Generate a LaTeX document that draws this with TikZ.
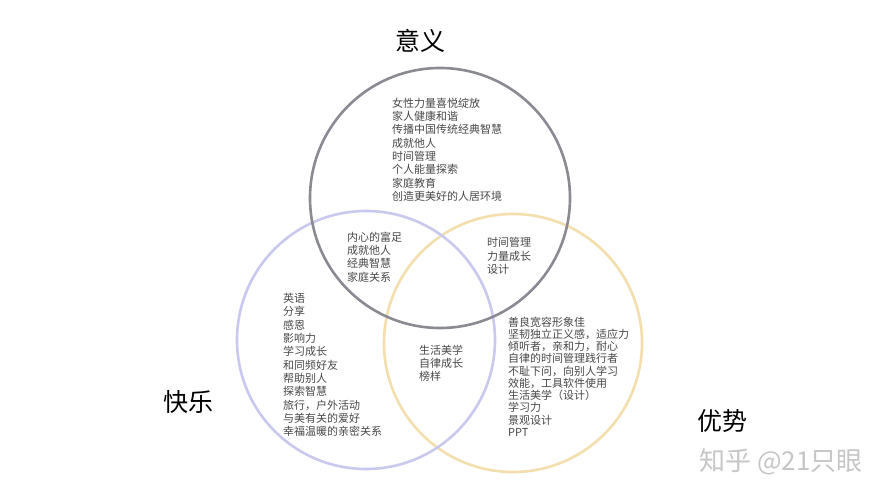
\documentclass[tikz,border=0pt]{standalone}
\usepackage{fontspec}
\setmainfont{Noto Sans CJK SC}
\begin{document}
\begin{tikzpicture}[x=1pt,y=-1pt,
  ring/.style={line width=2.6pt},
  txt/.style={anchor=north west,inner sep=0pt,align=left,text=txtc,font=\fontsize{11}{13.35}\selectfont},
  ttl/.style={inner sep=0pt,text=black,font=\fontsize{25}{30}\selectfont}]
\definecolor{txtc}{HTML}{484848}
\definecolor{greyc}{HTML}{8C8993}
\definecolor{lavc}{HTML}{C9C8EF}
\definecolor{yelc}{HTML}{F3DFAE}
\definecolor{wmc}{HTML}{C6C6C6}
\useasboundingbox (0,0) rectangle (889,500);
\fill[white] (0,0) rectangle (889,500);
\draw[ring,yelc] (513,343) circle[radius=129];
\draw[ring,lavc] (366,340) circle[radius=129];
\draw[ring,greyc] (440,198) circle[radius=130];
\node[ttl] (t1) at (420,41) {意义};
\node[ttl] (t2) at (188,402) {快乐};
\node[ttl] (t3) at (722,421) {优势};
\node[txt] (a) at (392,97.5) {女性力量喜悦绽放\\家人健康和谐\\传播中国传统经典智慧\\成就他人\\时间管理\\个人能量探索\\家庭教育\\创造更美好的人居环境};
\node[txt] (b) at (347,231.5) {内心的富足\\成就他人\\经典智慧\\家庭关系};
\node[txt] (c) at (487,237.5) {时间管理\\力量成长\\设计};
\node[txt] (d) at (283,293) {英语\\分享\\感恩\\影响力\\学习成长\\和同频好友\\帮助别人\\探索智慧\\旅行，户外活动\\与美有关的爱好\\幸福温暖的亲密关系};
\node[txt] (e) at (419,344.5) {生活美学\\自律成长\\榜样};
\node[txt,font=\fontsize{11}{12.25}\selectfont] (f) at (508,316.5) {善良宽容形象佳\\坚韧独立正义感，适应力\\倾听者，亲和力，耐心\\自律的时间管理践行者\\不耻下问，向别人学习\\效能，工具软件使用\\生活美学（设计）\\学习力\\景观设计\\PPT};
\node[inner sep=0pt,text=wmc,font=\fontsize{26}{30}\selectfont] (w) at (781,462) {知乎 @21只眼};
\end{tikzpicture}
\end{document}
